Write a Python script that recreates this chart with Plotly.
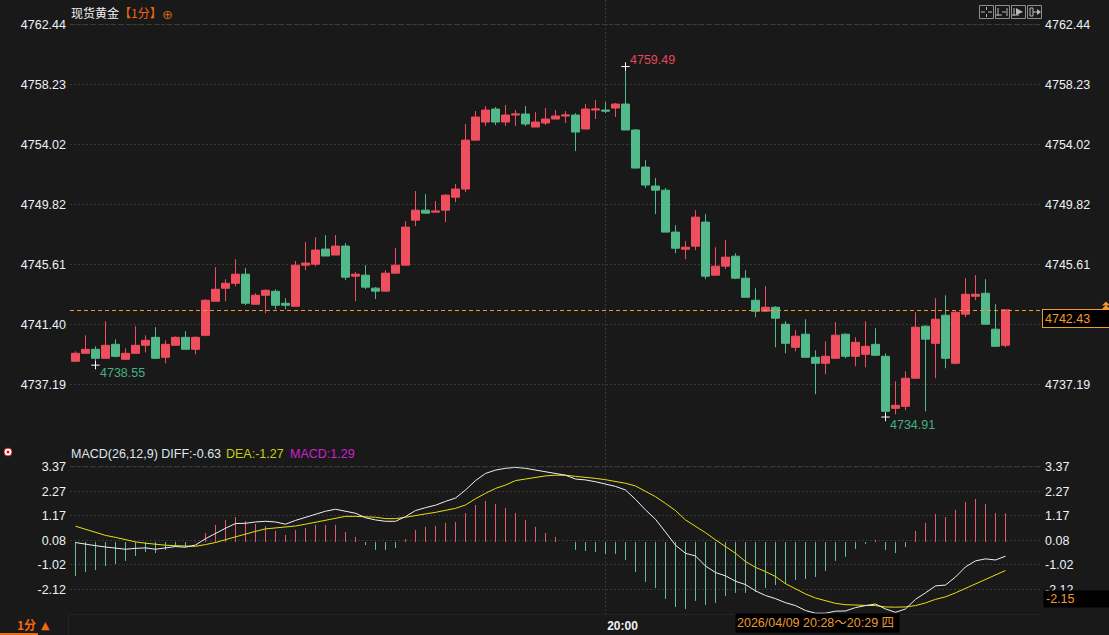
import plotly.graph_objects as go

W, H = 1109, 635
BG = "#191919"
FONT = "Liberation Sans, Noto Sans CJK SC, sans-serif"
CJK = "Noto Sans CJK SC, Liberation Sans, sans-serif"

opens = [4738.82,4739.38,4739.66,4739.03,4740.01,4738.96,4739.38,4739.94,4740.50,4739.10,
 4739.94,4740.50,4739.66,4740.64,4743.03,4743.94,4744.29,4744.93,4742.82,4743.45,
 4743.73,4742.89,4742.68,4745.56,4745.63,4746.69,4746.27,4746.90,4744.79,4744.86,
 4743.95,4743.74,4745.00,4745.56,4748.72,4749.42,4749.28,4749.42,4750.33,4750.90,
 4754.33,4755.60,4756.51,4755.60,4756.09,4756.16,4755.25,4755.53,4755.81,4756.02,
 4756.09,4755.11,4756.44,4756.44,4756.58,4756.86,4755.04,4752.44,4751.11,4750.82,
 4747.88,4746.68,4746.89,4748.58,4744.86,4745.49,4746.19,4744.65,4743.10,4742.33,
 4742.61,4741.42,4739.80,4740.72,4739.10,4738.68,4739.03,4740.72,4739.17,4739.31,
 4740.01,4739.17,4735.52,4735.66,4737.63,4741.28,4740.08,4742.05,4738.68,4742.12,
 4743.38,4743.59,4741.07,4739.94]
highs = [4739.52,4740.64,4739.87,4741.63,4740.36,4739.73,4741.28,4740.64,4741.21,4740.29,
 4740.57,4740.93,4740.57,4743.17,4745.42,4744.57,4745.98,4745.35,4743.59,4743.87,
 4743.87,4743.24,4745.85,4747.18,4747.53,4747.67,4747.67,4747.11,4745.07,4745.56,
 4744.02,4745.21,4746.76,4748.65,4750.76,4750.54,4750.05,4750.54,4751.25,4755.46,
 4756.37,4756.72,4756.65,4756.79,4756.44,4756.72,4756.30,4756.58,4756.44,4756.37,
 4756.23,4756.86,4757.14,4757.00,4756.93,4759.49,4755.11,4752.93,4751.67,4750.97,
 4748.37,4747.25,4749.42,4749.14,4746.82,4747.31,4746.40,4745.21,4743.94,4744.08,
 4742.68,4741.63,4741.00,4741.77,4739.59,4740.22,4741.56,4740.79,4740.51,4741.63,
 4741.14,4739.38,4737.42,4738.12,4742.26,4741.35,4743.24,4743.45,4742.33,4744.65,
 4744.86,4744.58,4742.82,4742.43]
lows = [4738.82,4739.38,4738.55,4739.03,4739.10,4738.96,4739.38,4739.45,4739.03,4738.68,
 4739.94,4739.66,4739.31,4740.57,4743.03,4743.03,4744.08,4742.75,4742.82,4742.19,
 4742.47,4742.47,4742.68,4745.21,4745.49,4746.20,4746.27,4744.51,4743.04,4743.88,
 4743.18,4743.74,4745.00,4745.56,4748.30,4749.21,4749.28,4748.58,4749.98,4750.68,
 4754.33,4755.32,4755.39,4755.32,4755.32,4755.32,4755.25,4755.39,4755.81,4755.53,
 4753.56,4755.11,4755.81,4756.23,4755.95,4755.04,4752.37,4750.97,4749.14,4747.88,
 4746.40,4745.98,4746.61,4744.58,4744.86,4745.28,4744.58,4743.31,4741.91,4742.33,
 4739.80,4739.38,4739.52,4739.10,4736.51,4737.91,4739.03,4739.03,4738.47,4738.40,
 4739.24,4734.91,4735.10,4735.38,4737.63,4735.31,4737.63,4738.33,4738.61,4741.91,
 4743.10,4741.42,4739.87,4739.80]
closes = [4739.38,4739.66,4739.03,4739.94,4739.17,4739.38,4739.94,4740.29,4739.03,4740.01,
 4740.50,4739.66,4740.50,4743.10,4743.87,4744.29,4744.93,4742.89,4743.45,4743.80,
 4742.75,4742.75,4745.56,4745.71,4746.62,4746.20,4746.90,4744.72,4744.93,4744.02,
 4743.74,4745.00,4745.56,4748.23,4749.42,4749.21,4749.35,4750.47,4750.90,4754.33,
 4755.95,4756.44,4755.60,4756.09,4756.16,4755.46,4755.60,4755.81,4756.02,4756.09,
 4754.90,4756.51,4756.51,4756.37,4756.86,4755.04,4752.37,4751.18,4750.82,4747.88,
 4746.75,4746.82,4748.93,4744.79,4745.49,4746.12,4744.65,4743.31,4742.33,4742.61,
 4741.84,4740.08,4740.58,4739.10,4738.68,4739.17,4740.65,4739.17,4740.15,4739.87,
 4739.24,4735.31,4735.73,4737.63,4741.21,4740.37,4741.77,4739.03,4742.26,4743.52,
 4743.52,4741.42,4739.87,4742.43]

macd_hist = [-1.51,-1.34,-1.25,-1.07,-0.98,-0.84,-0.62,-0.44,-0.49,-0.35,
 -0.22,-0.22,0.02,0.41,0.77,0.99,1.12,0.94,0.81,0.72,
 0.50,0.32,0.54,0.63,0.77,0.77,0.77,0.45,0.23,-0.13,
 -0.35,-0.35,-0.26,0.14,0.54,0.68,0.72,0.86,0.90,1.30,
 1.66,1.84,1.70,1.53,1.30,0.99,0.68,0.41,0.23,0.01,
 -0.35,-0.40,-0.44,-0.53,-0.53,-0.80,-1.34,-1.78,-2.05,-2.54,
 -2.90,-2.99,-2.63,-2.81,-2.72,-2.41,-2.27,-2.27,-2.23,-2.05,
 -1.92,-1.87,-1.69,-1.65,-1.56,-1.29,-0.84,-0.66,-0.31,-0.08,
 0.10,-0.35,-0.49,-0.22,0.50,0.86,1.26,1.12,1.44,1.79,
 1.93,1.70,1.30,1.29]
diff_line = [-0.02,-0.10,-0.16,-0.22,-0.26,-0.32,-0.28,-0.26,-0.32,-0.26,
 -0.20,-0.23,-0.13,0.15,0.39,0.62,0.83,0.84,0.90,0.93,
 0.90,0.80,0.97,1.11,1.27,1.38,1.47,1.38,1.29,1.09,
 0.99,0.93,0.93,1.14,1.41,1.54,1.65,1.82,1.97,2.33,
 2.75,3.07,3.22,3.30,3.34,3.30,3.22,3.13,3.06,2.99,
 2.82,2.78,2.70,2.58,2.49,2.33,1.91,1.44,1.02,0.45,
 -0.14,-0.50,-0.62,-1.07,-1.36,-1.51,-1.75,-1.90,-2.18,-2.39,
 -2.53,-2.71,-2.84,-3.06,-3.18,-3.18,-3.09,-3.08,-2.93,-2.84,
 -2.77,-2.99,-3.14,-2.99,-2.56,-2.27,-1.96,-1.92,-1.56,-1.11,
 -0.84,-0.75,-0.80,-0.63]
dea_line = [0.71,0.57,0.41,0.30,0.21,0.11,0.01,-0.05,-0.11,-0.14,
 -0.16,-0.19,-0.19,-0.11,-0.02,0.11,0.24,0.35,0.48,0.59,
 0.63,0.66,0.72,0.80,0.89,0.97,1.06,1.15,1.15,1.14,
 1.11,1.05,1.05,1.11,1.17,1.26,1.33,1.42,1.51,1.66,
 1.94,2.18,2.40,2.55,2.75,2.82,2.90,2.96,2.99,2.99,
 2.94,2.91,2.85,2.79,2.72,2.63,2.51,2.27,2.03,1.73,
 1.41,0.99,0.72,0.42,0.10,-0.20,-0.50,-0.87,-1.13,-1.32,
 -1.54,-1.86,-2.08,-2.32,-2.50,-2.62,-2.74,-2.80,-2.83,-2.83,
 -2.84,-2.90,-2.91,-2.90,-2.84,-2.72,-2.56,-2.45,-2.27,-2.07,
 -1.86,-1.66,-1.45,-1.27]

price_ticks = [4762.44, 4758.23, 4754.02, 4749.82, 4745.61, 4741.40, 4737.19]
right_price_ticks = [4762.44, 4758.23, 4754.02, 4749.82, 4745.61, 4737.19]
macd_ticks = [3.37, 2.27, 1.17, 0.08, -1.02, -2.12]
time_tick_index = [53]
time_tick_labels = ["20:00"]
high_mark = (55, 4759.49)
low_marks = [(2, 4738.55), (81, 4734.91)]
last_price = 4742.43
last_line_level = 4742.38
x_index = list(range(len(closes)))

RED, GREEN = "#ef4e5e", "#52b98a"
HRED, HGREEN = "#e8566a", "#66bd98"
ORANGE = "#f39a2d"
GRID = "#383838"
GRID_DASH = "2px,2px"
TXT = "#eef1f4"

X0, X1 = 70, 1040
SPLIT, BOT = 445, 614
PX_PER_PRICE = 300 / 21.04
PRICE_Y = 324.5
def fx(px): return px / W
def fy(px): return 1 - px / H

fig = go.Figure()
fig.add_trace(go.Candlestick(
    x=x_index, open=opens, high=highs, low=lows, close=closes,
    increasing=dict(line=dict(color=RED, width=1), fillcolor=RED),
    decreasing=dict(line=dict(color=GREEN, width=1), fillcolor=GREEN),
    whiskerwidth=0, xaxis="x", yaxis="y", hoverinfo="skip", showlegend=False))
# invisible twin so that the right-hand price scale is drawn
fig.add_trace(go.Scatter(x=x_index, y=closes, mode="lines", line=dict(width=0), opacity=0,
                         xaxis="x", yaxis="y3", hoverinfo="skip", showlegend=False))
mx = [high_mark[0]] + [m[0] for m in low_marks]
my = [high_mark[1]] + [m[1] for m in low_marks]
fig.add_trace(go.Scatter(x=mx, y=my, mode="markers",
                         marker=dict(symbol="cross-thin", size=6, line=dict(color="#ffffff", width=1)),
                         xaxis="x", yaxis="y", hoverinfo="skip", showlegend=False))

# MACD histogram as 1px stems
def stems(keep):
    xs, ys = [], []
    for i, v in zip(x_index, macd_hist):
        if keep(v):
            xs += [i, i, None]
            ys += [0, v, None]
    return xs, ys
for keep, col in [(lambda v: v >= 0, HRED), (lambda v: v < 0, HGREEN)]:
    xs, ys = stems(keep)
    fig.add_trace(go.Scatter(x=xs, y=ys, mode="lines", line=dict(color=col, width=1), connectgaps=False,
                             xaxis="x2", yaxis="y2", hoverinfo="skip", showlegend=False))
fig.add_trace(go.Scatter(x=x_index, y=dea_line, mode="lines", line=dict(color="#e6e010", width=1),
                         xaxis="x2", yaxis="y2", hoverinfo="skip", showlegend=False))
fig.add_trace(go.Scatter(x=x_index, y=diff_line, mode="lines", line=dict(color="#f0f0f0", width=1),
                         xaxis="x2", yaxis="y2", hoverinfo="skip", showlegend=False))
fig.add_trace(go.Scatter(x=x_index, y=diff_line, mode="lines", line=dict(width=0), opacity=0,
                         xaxis="x2", yaxis="y4", hoverinfo="skip", showlegend=False))

x_range = [(X0 - 75.5) / 10, (X1 - 75.5) / 10]
p_range = [4741.40 - (SPLIT - PRICE_Y) / PX_PER_PRICE, 4741.40 + PRICE_Y / PX_PER_PRICE]
m_range = [0.08 - (BOT - 540.3) / 22.36, 0.08 + (540.3 - SPLIT) / 22.36]
tickfont = dict(family=FONT, size=12.5, color=TXT)
def labels(vals): return [f"{v:.2f}" for v in vals]

def yax(dom, rng, vals, **kw):
    return dict(domain=dom, range=rng, tickmode="array", tickvals=vals, ticktext=labels(vals), tickfont=tickfont,
                ticks="", zeroline=False, fixedrange=True, **kw)

fig.update_layout(
    width=W, height=H, margin=dict(l=0, r=0, t=0, b=0), autosize=False,
    paper_bgcolor=BG, plot_bgcolor=BG, showlegend=False, boxgap=0.2, boxgroupgap=0,
    font=dict(family=FONT, size=12, color=TXT),
    xaxis=dict(domain=[fx(X0), fx(X1)], range=x_range, anchor="y", rangeslider=dict(visible=False),
               tickmode="array", tickvals=time_tick_index, ticktext=[""], showgrid=True, gridcolor=GRID,
               griddash=GRID_DASH, gridwidth=1, zeroline=False, ticks=""),
    xaxis2=dict(domain=[fx(X0), fx(X1)], range=x_range, anchor="y2", tickmode="array",
                tickvals=time_tick_index, ticktext=time_tick_labels, showgrid=True, gridcolor=GRID,
                griddash=GRID_DASH, gridwidth=1, zeroline=False, ticks="", showline=True, linecolor="#232323",
                ticklabelshift=17, ticklabelstandoff=1,
                tickfont=dict(family=FONT, size=12, color=TXT, weight="bold")),
    yaxis=yax([fy(SPLIT), 1], p_range, price_ticks, anchor="x", showgrid=True, gridcolor=GRID,
              griddash=GRID_DASH, gridwidth=1, ticklabelstandoff=3),
    yaxis3=yax([fy(SPLIT), 1], p_range, right_price_ticks, anchor="x", overlaying="y", side="right",
               showgrid=False, ticklabelstandoff=4),
    yaxis2=yax([fy(BOT), fy(SPLIT)], m_range, macd_ticks, anchor="x2", showgrid=True, gridcolor=GRID,
               griddash=GRID_DASH, gridwidth=1, ticklabelstandoff=3),
    yaxis4=yax([fy(BOT), fy(SPLIT)], m_range, macd_ticks, anchor="x2", overlaying="y2", side="right",
               showgrid=False, ticklabelstandoff=4),
)

shapes = []
# dashed top gridlines and the last-price line
for yval, yref, col in [(price_ticks[0], "y", "#3c3c3c"), (macd_ticks[0], "y2", "#3c3c3c")]:
    shapes.append(dict(type="line", xref="paper", yref=yref, x0=fx(X0), x1=fx(X1), y0=yval, y1=yval,
                       line=dict(color=col, width=1, dash="4px,3px")))
shapes.append(dict(type="line", xref="paper", yref="y", x0=fx(X0), x1=fx(1042), y0=last_line_level, y1=last_line_level,
                   line=dict(color=ORANGE, width=1, dash="4px,3px")))

def px_line(x0, y0, x1, y1, color, width=1):
    shapes.append(dict(type="line", xref="paper", yref="paper", x0=fx(x0), x1=fx(x1), y0=fy(y0), y1=fy(y1),
                       line=dict(color=color, width=width)))
def px_rect(x0, y0, x1, y1, fill=None, line=None):
    shapes.append(dict(type="rect", xref="paper", yref="paper", x0=fx(x0), x1=fx(x1), y0=fy(y0), y1=fy(y1),
                       fillcolor=fill or "rgba(0,0,0,0)", line=dict(color=line or "rgba(0,0,0,0)", width=1)))
def px_tri(xc, ytop, half, h, color):
    path = f"M {fx(xc-half)} {fy(ytop+h)} L {fx(xc)} {fy(ytop)} L {fx(xc+half)} {fy(ytop+h)} Z"
    shapes.append(dict(type="path", xref="paper", yref="paper", path=path, fillcolor=color, line=dict(width=0)))

px_tri(1106, 301.5, 4, 4, ORANGE)
px_tri(1106, 305, 4, 4, ORANGE)
# timeframe underline
px_line(0, 634, 38, 634, "#f06a10", 2)
px_line(68.5, 614, 68.5, 635, "#232323")
# toolbar
for bx in (979, 995, 1011, 1027):
    px_rect(bx + .5, 5.5, bx + 14.5, 18.5, line="#8e8e8e")
G = "#b8b8b8"
px_line(981, 12, 985, 12, G); px_line(988, 12, 992, 12, G); px_line(986.5, 7, 986.5, 10, G); px_line(986.5, 14, 986.5, 17, G)
px_line(998, 8, 998, 16, G); px_line(996, 15, 1002, 15, G); px_line(1007, 8, 1007, 16, G); px_line(1002, 12, 1006, 12, G)
px_line(1014, 8, 1014, 16, G); px_line(1012, 15, 1019, 15, G)
shapes.append(dict(type="path", xref="paper", yref="paper", fillcolor=G, line=dict(width=0),
                   path=f"M {fx(1016)} {fy(8)} L {fx(1023)} {fy(12)} L {fx(1016)} {fy(15)} Z"))
px_rect(1030, 8, 1033, 16, line=G); px_line(1033, 12, 1038, 12, G)
shapes.append(dict(type="path", xref="paper", yref="paper", fillcolor=G, line=dict(width=0),
                   path=f"M {fx(1037)} {fy(9)} L {fx(1041)} {fy(12)} L {fx(1037)} {fy(15)} Z"))
# blinking dot icon
shapes.append(dict(type="circle", xref="paper", yref="paper", x0=fx(4), x1=fx(12), y0=fy(456), y1=fy(448),
                   fillcolor="#ffffff", line=dict(color="#d02020", width=1)))
shapes.append(dict(type="circle", xref="paper", yref="paper", x0=fx(6.5), x1=fx(9.5), y0=fy(453.5), y1=fy(450.5),
                   fillcolor="#e01010", line=dict(width=0)))
fig.update_layout(shapes=shapes)

ann = []
def note(x, y, text, color=TXT, size=12.5, anchor="left", family=FONT, borderpad=0, **kw):
    ann.append(dict(xref="paper", yref="paper", x=fx(x), y=fy(y), text=text, showarrow=False, xanchor=anchor,
                    yanchor="middle", align="left", font=dict(family=family, size=size, color=color),
                    borderpad=borderpad, **kw))

note(70, 13, f'现货黄金<span style="color:#f0670f">【1分】</span>', family=CJK, size=12)
note(167, 15, "⊕", color="#c8651c", size=13, anchor="center", family="DejaVu Sans")
note(70, 454, "MACD(26,12,9) DIFF:-0.63", color="#dfe6ee")
note(225, 454, "DEA:-1.27", color="#c8cc10")
note(289, 454, "MACD:1.29", color="#d020d0")
note(16, 624, "<b>1分</b>", color="#f0690f", family=CJK, size=12)
note(45, 625, "▲", color="#f0690f", size=11, anchor="center", family="DejaVu Sans")
note(1042, 319, f"{last_price:.2f}", color=ORANGE, bgcolor="#000000", bordercolor=ORANGE, borderwidth=1,
     borderpad=2, width=64, height=13)
note(1043, 599, "-2.15", color=ORANGE, bgcolor="#000000", borderpad=2, width=62, height=12)
note(735, 622.5, "2026/04/09 20:28～20:29 四", color="#ea9a34", family=FONT, bgcolor="#000000",
     borderpad=1, width=161, height=16)

# extreme-value labels tied to the data
ann.append(dict(xref="x", yref="y", x=high_mark[0], y=high_mark[1], text=f"{high_mark[1]:.2f}", showarrow=False,
                xanchor="left", yanchor="middle", xshift=2, yshift=7,
                font=dict(family=FONT, size=12.5, color="#e2485a")))
for (ix, val) in low_marks:
    ann.append(dict(xref="x", yref="y", x=ix, y=val, text=f"{val:.2f}", showarrow=False,
                    xanchor="left", yanchor="middle", xshift=2, yshift=-7.5,
                    font=dict(family=FONT, size=12.5, color="#45b083")))
fig.update_layout(annotations=ann)

for n in (opens, highs, lows, closes, macd_hist, diff_line, dea_line):
    assert len(n) == 94, len(n)

fig.write_html("out.html", config=dict(displayModeBar=False),
               post_script="document.body.style.margin='0';document.body.style.background='%s';" % BG)
